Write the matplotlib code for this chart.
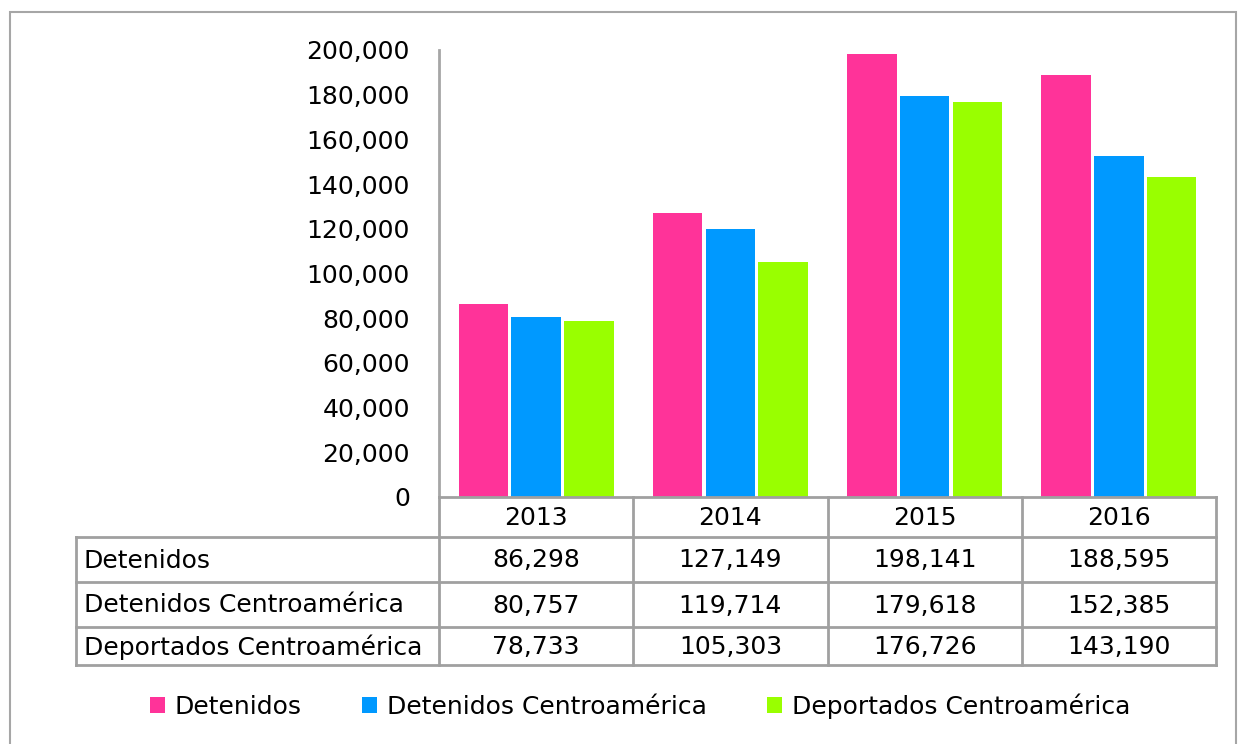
import matplotlib.pyplot as plt
import numpy as np
from matplotlib.patches import Rectangle

years = ['2013', '2014', '2015', '2016']
series = ['Detenidos', 'Detenidos Centroamérica', 'Deportados Centroamérica']
detenidos = [86298, 127149, 198141, 188595]
detenidos_ca = [80757, 119714, 179618, 152385]
deportados_ca = [78733, 105303, 176726, 143190]
colors = ['#FF3399', '#0099FF', '#99FF00']
yticks = np.arange(0, 200001, 20000)

plt.rcParams['font.family'] = ['DejaVu Sans']
fs = 18

W, H = 1244, 744
fig = plt.figure(figsize=(W / 100, H / 100), dpi=100)

def fx(px):
    return px / W

def fy(py):
    return 1 - py / H

# outer frame
fig.patches.append(Rectangle((fx(10), fy(760)), fx(1236) - fx(10), fy(12) - fy(760),
                             transform=fig.transFigure, fill=False,
                             edgecolor='#A6A6A6', lw=1.5))

left, right, top, bottom = 439, 1216, 50, 497
ax = fig.add_axes([fx(left), fy(bottom), fx(right) - fx(left), fy(top) - fy(bottom)])

values = [detenidos, detenidos_ca, deportados_ca]
x = np.arange(len(years)) + 0.5
width = 0.255
step = 0.272
for i, (vals, c) in enumerate(zip(values, colors)):
    ax.bar(x + (i - 1) * step, vals, width, color=c, label=series[i])

ax.set_xlim(0, 4)
ax.set_ylim(0, 200000)
ax.set_yticks(yticks)
ax.set_yticklabels([f'{v:,}' for v in yticks], fontsize=fs)
ax.tick_params(axis='y', length=0, pad=21)
ax.set_xticks([])
for s in ['top', 'right', 'bottom']:
    ax.spines[s].set_visible(False)
ax.spines['left'].set_color('#A6A6A6')
ax.spines['left'].set_linewidth(2)

# data table below the plot
ov = fig.add_axes([0, 0, 1, 1], facecolor='none')
ov.set_xlim(0, W)
ov.set_ylim(H, 0)
ov.axis('off')

lc = '#A0A0A0'
lw = 2
cols = np.linspace(left, right, len(years) + 1)
label_left = 76
rows = [497, 537, 582, 627, 665]

ov.plot([left, right], [rows[0], rows[0]], color=lc, lw=lw)
for r in rows[1:]:
    ov.plot([label_left, right], [r, r], color=lc, lw=lw)
for c in cols:
    ov.plot([c, c], [rows[0], rows[-1]], color=lc, lw=lw)
ov.plot([label_left, label_left], [rows[1], rows[-1]], color=lc, lw=lw)

for j, yr in enumerate(years):
    ov.text((cols[j] + cols[j + 1]) / 2, (rows[0] + rows[1]) / 2 + 1, yr,
            ha='center', va='center', fontsize=fs)
for i, vals in enumerate(values):
    yc = (rows[i + 1] + rows[i + 2]) / 2 + 1
    ov.text(label_left + 8, yc, series[i], ha='left', va='center', fontsize=fs)
    for j, v in enumerate(vals):
        ov.text((cols[j] + cols[j + 1]) / 2, yc, f'{v:,}',
                ha='center', va='center', fontsize=fs)

fig.legend(loc='center', bbox_to_anchor=(fx(640), fy(706)), ncol=3, frameon=False,
           fontsize=fs, handlelength=0.6, handleheight=0.6, handletextpad=0.4,
           columnspacing=2.4)

fig.savefig('out.png', dpi=100)
